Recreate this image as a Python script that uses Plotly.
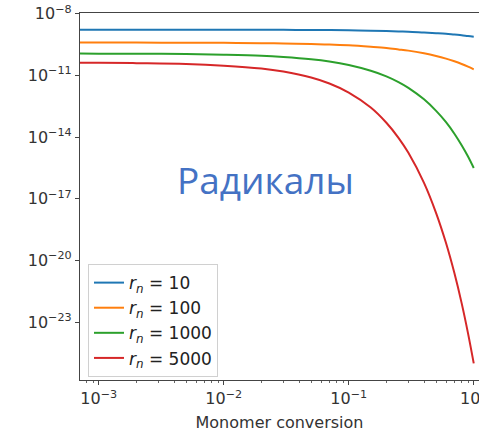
import numpy as np
import plotly.graph_objects as go

# Monomer conversion sample points
conversion = [0.0007, 0.001, 0.002, 0.005, 0.01, 0.02, 0.03, 0.05, 0.07, 0.1, 0.15,
              0.2, 0.25, 0.3, 0.4, 0.5, 0.6, 0.7, 0.8, 0.9, 1.0]

# log10 of radical concentration for each r_n
log_r10 = [-8.77, -8.77, -8.77, -8.77, -8.77, -8.78, -8.78, -8.79, -8.79, -8.80, -8.82,
           -8.84, -8.86, -8.87, -8.91, -8.94, -8.97, -9.01, -9.04, -9.08, -9.11]
log_r100 = [-9.40, -9.40, -9.40, -9.41, -9.41, -9.43, -9.44, -9.47, -9.49, -9.53, -9.60,
            -9.66, -9.73, -9.79, -9.92, -10.05, -10.18, -10.31, -10.44, -10.57, -10.70]
log_r1000 = [-9.93, -9.94, -9.94, -9.96, -9.99, -10.04, -10.10, -10.21, -10.32, -10.49, -10.77,
             -11.04, -11.32, -11.60, -12.16, -12.72, -13.27, -13.83, -14.39, -14.94, -15.50]
log_r5000 = [-10.38, -10.38, -10.40, -10.44, -10.52, -10.66, -10.81, -11.10, -11.39, -11.83, -12.56,
             -13.30, -14.03, -14.76, -16.22, -17.69, -19.15, -20.61, -22.07, -23.54, -25.00]

series_names = ["10", "100", "1000", "5000"]
series_logs = [log_r10, log_r100, log_r1000, log_r5000]
colors = ["#1f77b4", "#ff7f0e", "#2ca02c", "#d62728"]

x_ticks = [1e-3, 1e-2, 1e-1, 1]
x_ticktext = ["10<sup>−3</sup>", "10<sup>−2</sup>", "10<sup>−1</sup>", "10<sup>0</sup>"]
y_exps = [-8, -11, -14, -17, -20, -23]

fig = go.Figure()
for name, logs, c in zip(series_names, series_logs, colors):
    fig.add_trace(go.Scatter(
        x=conversion, y=10 ** np.array(logs), mode="lines",
        line=dict(color=c, width=2, shape="spline", smoothing=1.0),
        name=f"<i>r</i><sub><i>n</i></sub> = {name}",
    ))

minor_x = [m * 10.0 ** e for e in range(-4, 1) for m in range(2, 10)]

fig.update_layout(
    width=479, height=432,
    margin=dict(l=80, r=0, t=13, b=52),
    paper_bgcolor="white", plot_bgcolor="white",
    font=dict(family="DejaVu Sans", size=16, color="#333333"),
    showlegend=True,
    legend=dict(
        x=0.02, y=0.008, xanchor="left", yanchor="bottom",
        bgcolor="rgba(255,255,255,0.9)", bordercolor="#d0d0d0", borderwidth=1,
        font=dict(size=17, color="#222222"), tracegroupgap=0,
    ),
    xaxis=dict(
        type="log", range=[-3.15, 0.042],
        tickvals=x_ticks, ticktext=x_ticktext,
        ticks="outside", ticklen=4, tickcolor="#444",
        tickfont=dict(size=16), ticklabeloverflow="allow",
        showline=True, linecolor="#444", linewidth=1.2, mirror=True,
        showgrid=False, zeroline=False, automargin=False,
        minor=dict(tickvals=minor_x, ticks="outside", ticklen=2, tickcolor="#666", showgrid=False),
        title=dict(text="Monomer conversion", font=dict(size=16, color="#333"), standoff=10),
    ),
    yaxis=dict(
        type="log", range=[-25.81, -7.96],
        tickvals=[10.0 ** e for e in y_exps],
        ticktext=[f"10<sup>−{-e}</sup>" for e in y_exps],
        ticks="outside", ticklen=4, tickcolor="#444",
        tickfont=dict(size=16), ticklabeloverflow="allow",
        showline=True, linecolor="#444", linewidth=1.2,
        showgrid=False, zeroline=False, automargin=False,
    ),
)

fig.add_annotation(
    text="Радикалы", x=0.465, y=0.545, xref="paper", yref="paper",
    showarrow=False, font=dict(family="Open Sans", size=37, color="#4472C4"),
)

fig.write_html("out.html")
